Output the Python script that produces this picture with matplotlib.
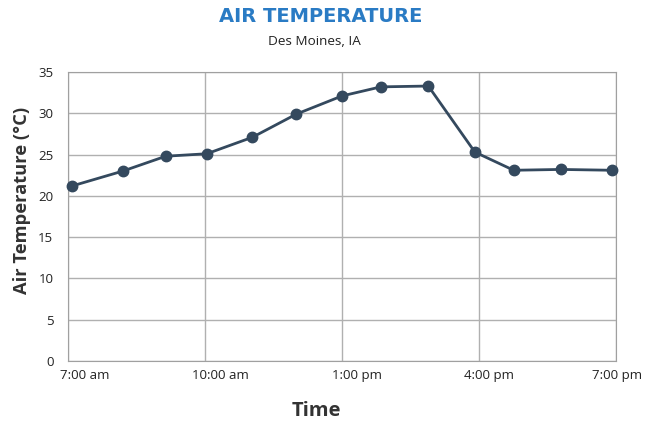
import matplotlib.pyplot as plt
import matplotlib.transforms as mtransforms

# hours since midnight
heures = [7.09, 8.2, 9.14, 10.04, 11.04, 12.0, 13.0, 13.85, 14.89, 15.91, 16.76, 17.79, 18.91]
temperatures = [21.2, 23.0, 24.8, 25.1, 27.1, 29.9, 32.1, 33.2, 33.3, 25.3, 23.1, 23.2, 23.1]

ticks_x = [7, 10, 13, 16, 19]
labels_x = ['7:00 am', '10:00 am', '1:00 pm', '4:00 pm', '7:00 pm']
ticks_y = [0, 5, 10, 15, 20, 25, 30, 35]
# the labels sit a little right of their ticks in the original
decalage_px = [17, 15, 15, 10, 1.5]

plt.rcParams['font.family'] = ['Open Sans', 'DejaVu Sans']

fig = plt.figure(figsize=(6.45, 4.21), dpi=100)
ax = fig.add_axes([68/645, 1-361/421, 548/645, 289/421])

ax.plot(heures, temperatures, color='#34495e', linewidth=2, marker='o',
        markersize=7.5, zorder=3, clip_on=False)

ax.set_xlim(7, 19)
ax.set_ylim(0, 35)
ax.set_xticks(ticks_x)
ax.set_xticklabels(labels_x)
ax.set_yticks(ticks_y)
ax.tick_params(length=0, labelsize=9.5, colors='#222222')
ax.tick_params(axis='x', pad=6)
ax.tick_params(axis='y', pad=10.5)
for lab, d in zip(ax.get_xticklabels(), decalage_px):
    lab.set_transform(lab.get_transform() + mtransforms.ScaledTranslation(d/100, 0, fig.dpi_scale_trans))
ax.grid(True, color='#b0b0b0', linewidth=1)
ax.set_axisbelow(True)
for s in ax.spines.values():
    s.set_color('#a0a0a0')

# axis titles placed like in the original (not centred on the axes)
fig.text(316/645, 1-410.5/421, 'Time', ha='center', va='center',
         fontsize=14.5, fontweight='bold', color='#333333')
fig.text(22.5/645, 1-200.5/421, 'Air Temperature (°C)', ha='center', va='center',
         rotation=90, fontsize=13.2, fontweight='bold', color='#333333')

fig.text(320.5/645, 1-16.5/421, 'AIR TEMPERATURE', ha='center', va='center',
         fontsize=14, fontweight='bold', color='#2a7bc4', family='DejaVu Sans')
fig.text(314.5/645, 1-41.5/421, 'Des Moines, IA', ha='center', va='center',
         fontsize=9.7, color='#222222')

fig.savefig('out.png', dpi=100)
